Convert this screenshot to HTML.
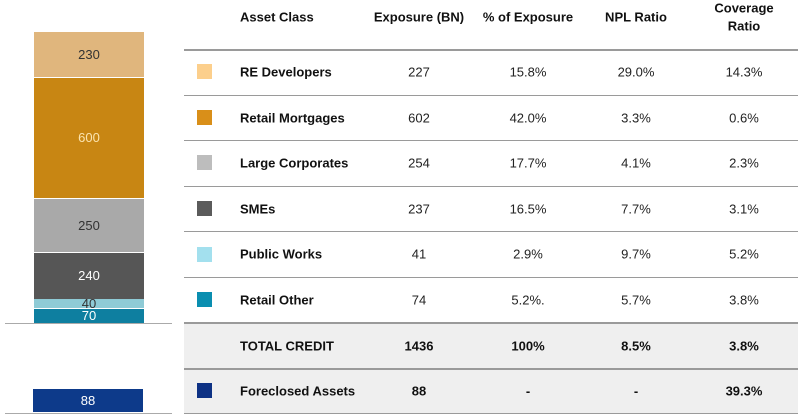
<!DOCTYPE html>
<html><head><meta charset="utf-8"><style>
body{margin:0;width:800px;height:418px;background:#fff;font-family:"Liberation Sans",Arial,sans-serif;position:relative;overflow:hidden}
.a{position:absolute}
.seg{position:absolute;left:34px;width:110px;text-align:center;font-size:13px}
.t{position:absolute;font-size:13px;color:#222;transform:translate(-50%,-50%);white-space:nowrap}
.l{position:absolute;font-size:13px;font-weight:bold;color:#111;transform:translateY(-50%);left:240px;white-space:nowrap}
.h{font-weight:bold;color:#111}
.line{position:absolute;left:184px;width:614px;height:1px;background:#9a9a9a}
.sq{position:absolute;left:197px;width:15px;height:15px}
</style></head><body>
<div class="seg" style="top:32px;height:45px;line-height:45px;background:#e0b67d;color:#333">230</div>
<div class="seg" style="top:78px;height:120px;line-height:120px;background:#c88613;color:#fbe4b0">600</div>
<div class="seg" style="top:199px;height:53px;line-height:53px;background:#a9a9a9;color:#333">250</div>
<div class="seg" style="top:253px;height:46px;line-height:46px;background:#565656;color:#fff">240</div>
<div class="seg" style="top:299px;height:9px;line-height:9px;background:#8fcbd6;color:#333">40</div>
<div class="seg" style="top:309px;height:14px;line-height:14px;background:#0e7fa0;color:#fff">70</div>
<div class="a" style="left:5px;top:323px;width:167px;height:1px;background:#aaa"></div>
<div class="seg" style="left:33px;top:389px;height:23px;line-height:23px;background:#0d3a8a;color:#fff">88</div>
<div class="a" style="left:5px;top:413px;width:167px;height:1px;background:#aaa"></div>

<div class="a" style="left:184px;top:323px;width:614px;height:91px;background:#efefef"></div>
<div class="line" style="top:49px;height:2px"></div>
<div class="line" style="top:95px"></div>
<div class="line" style="top:140px"></div>
<div class="line" style="top:186px"></div>
<div class="line" style="top:231px"></div>
<div class="line" style="top:277px"></div>
<div class="line" style="top:322px;height:2px"></div>
<div class="line" style="top:368px;height:2px"></div>
<div class="line" style="top:413px"></div>

<div class="l" style="top:17px">Asset Class</div>
<div class="t h" style="left:419px;top:17px">Exposure (BN)</div>
<div class="t h" style="left:528px;top:17px">% of Exposure</div>
<div class="t h" style="left:636px;top:17px">NPL Ratio</div>
<div class="t h" style="left:744px;top:8px">Coverage</div>
<div class="t h" style="left:744px;top:26px">Ratio</div>

<div class="sq" style="top:64px;background:#fccf8c"></div>
<div class="sq" style="top:110px;background:#d98f19"></div>
<div class="sq" style="top:155px;background:#bdbdbd"></div>
<div class="sq" style="top:201px;background:#5b5b5b"></div>
<div class="sq" style="top:247px;background:#a3e0ee"></div>
<div class="sq" style="top:292px;background:#0a8eb0"></div>
<div class="sq" style="top:383px;background:#0d3184"></div>

<div class="l" style="top:72px">RE Developers</div>
<div class="l" style="top:118px">Retail Mortgages</div>
<div class="l" style="top:163px">Large Corporates</div>
<div class="l" style="top:209px">SMEs</div>
<div class="l" style="top:254px">Public Works</div>
<div class="l" style="top:300px">Retail Other</div>
<div class="l" style="top:346px">TOTAL CREDIT</div>
<div class="l" style="top:391px">Foreclosed Assets</div>

<div class="t" style="left:419px;top:72px">227</div><div class="t" style="left:528px;top:72px">15.8%</div><div class="t" style="left:636px;top:72px">29.0%</div><div class="t" style="left:744px;top:72px">14.3%</div>
<div class="t" style="left:419px;top:118px">602</div><div class="t" style="left:528px;top:118px">42.0%</div><div class="t" style="left:636px;top:118px">3.3%</div><div class="t" style="left:744px;top:118px">0.6%</div>
<div class="t" style="left:419px;top:163px">254</div><div class="t" style="left:528px;top:163px">17.7%</div><div class="t" style="left:636px;top:163px">4.1%</div><div class="t" style="left:744px;top:163px">2.3%</div>
<div class="t" style="left:419px;top:209px">237</div><div class="t" style="left:528px;top:209px">16.5%</div><div class="t" style="left:636px;top:209px">7.7%</div><div class="t" style="left:744px;top:209px">3.1%</div>
<div class="t" style="left:419px;top:254px">41</div><div class="t" style="left:528px;top:254px">2.9%</div><div class="t" style="left:636px;top:254px">9.7%</div><div class="t" style="left:744px;top:254px">5.2%</div>
<div class="t" style="left:419px;top:300px">74</div><div class="t" style="left:528px;top:300px">5.2%.</div><div class="t" style="left:636px;top:300px">5.7%</div><div class="t" style="left:744px;top:300px">3.8%</div>
<div class="t h" style="left:419px;top:346px">1436</div><div class="t h" style="left:528px;top:346px">100%</div><div class="t h" style="left:636px;top:346px">8.5%</div><div class="t h" style="left:744px;top:346px">3.8%</div>
<div class="t h" style="left:419px;top:391px">88</div><div class="t h" style="left:528px;top:391px">-</div><div class="t h" style="left:636px;top:391px">-</div><div class="t h" style="left:744px;top:391px">39.3%</div>
</body></html>
